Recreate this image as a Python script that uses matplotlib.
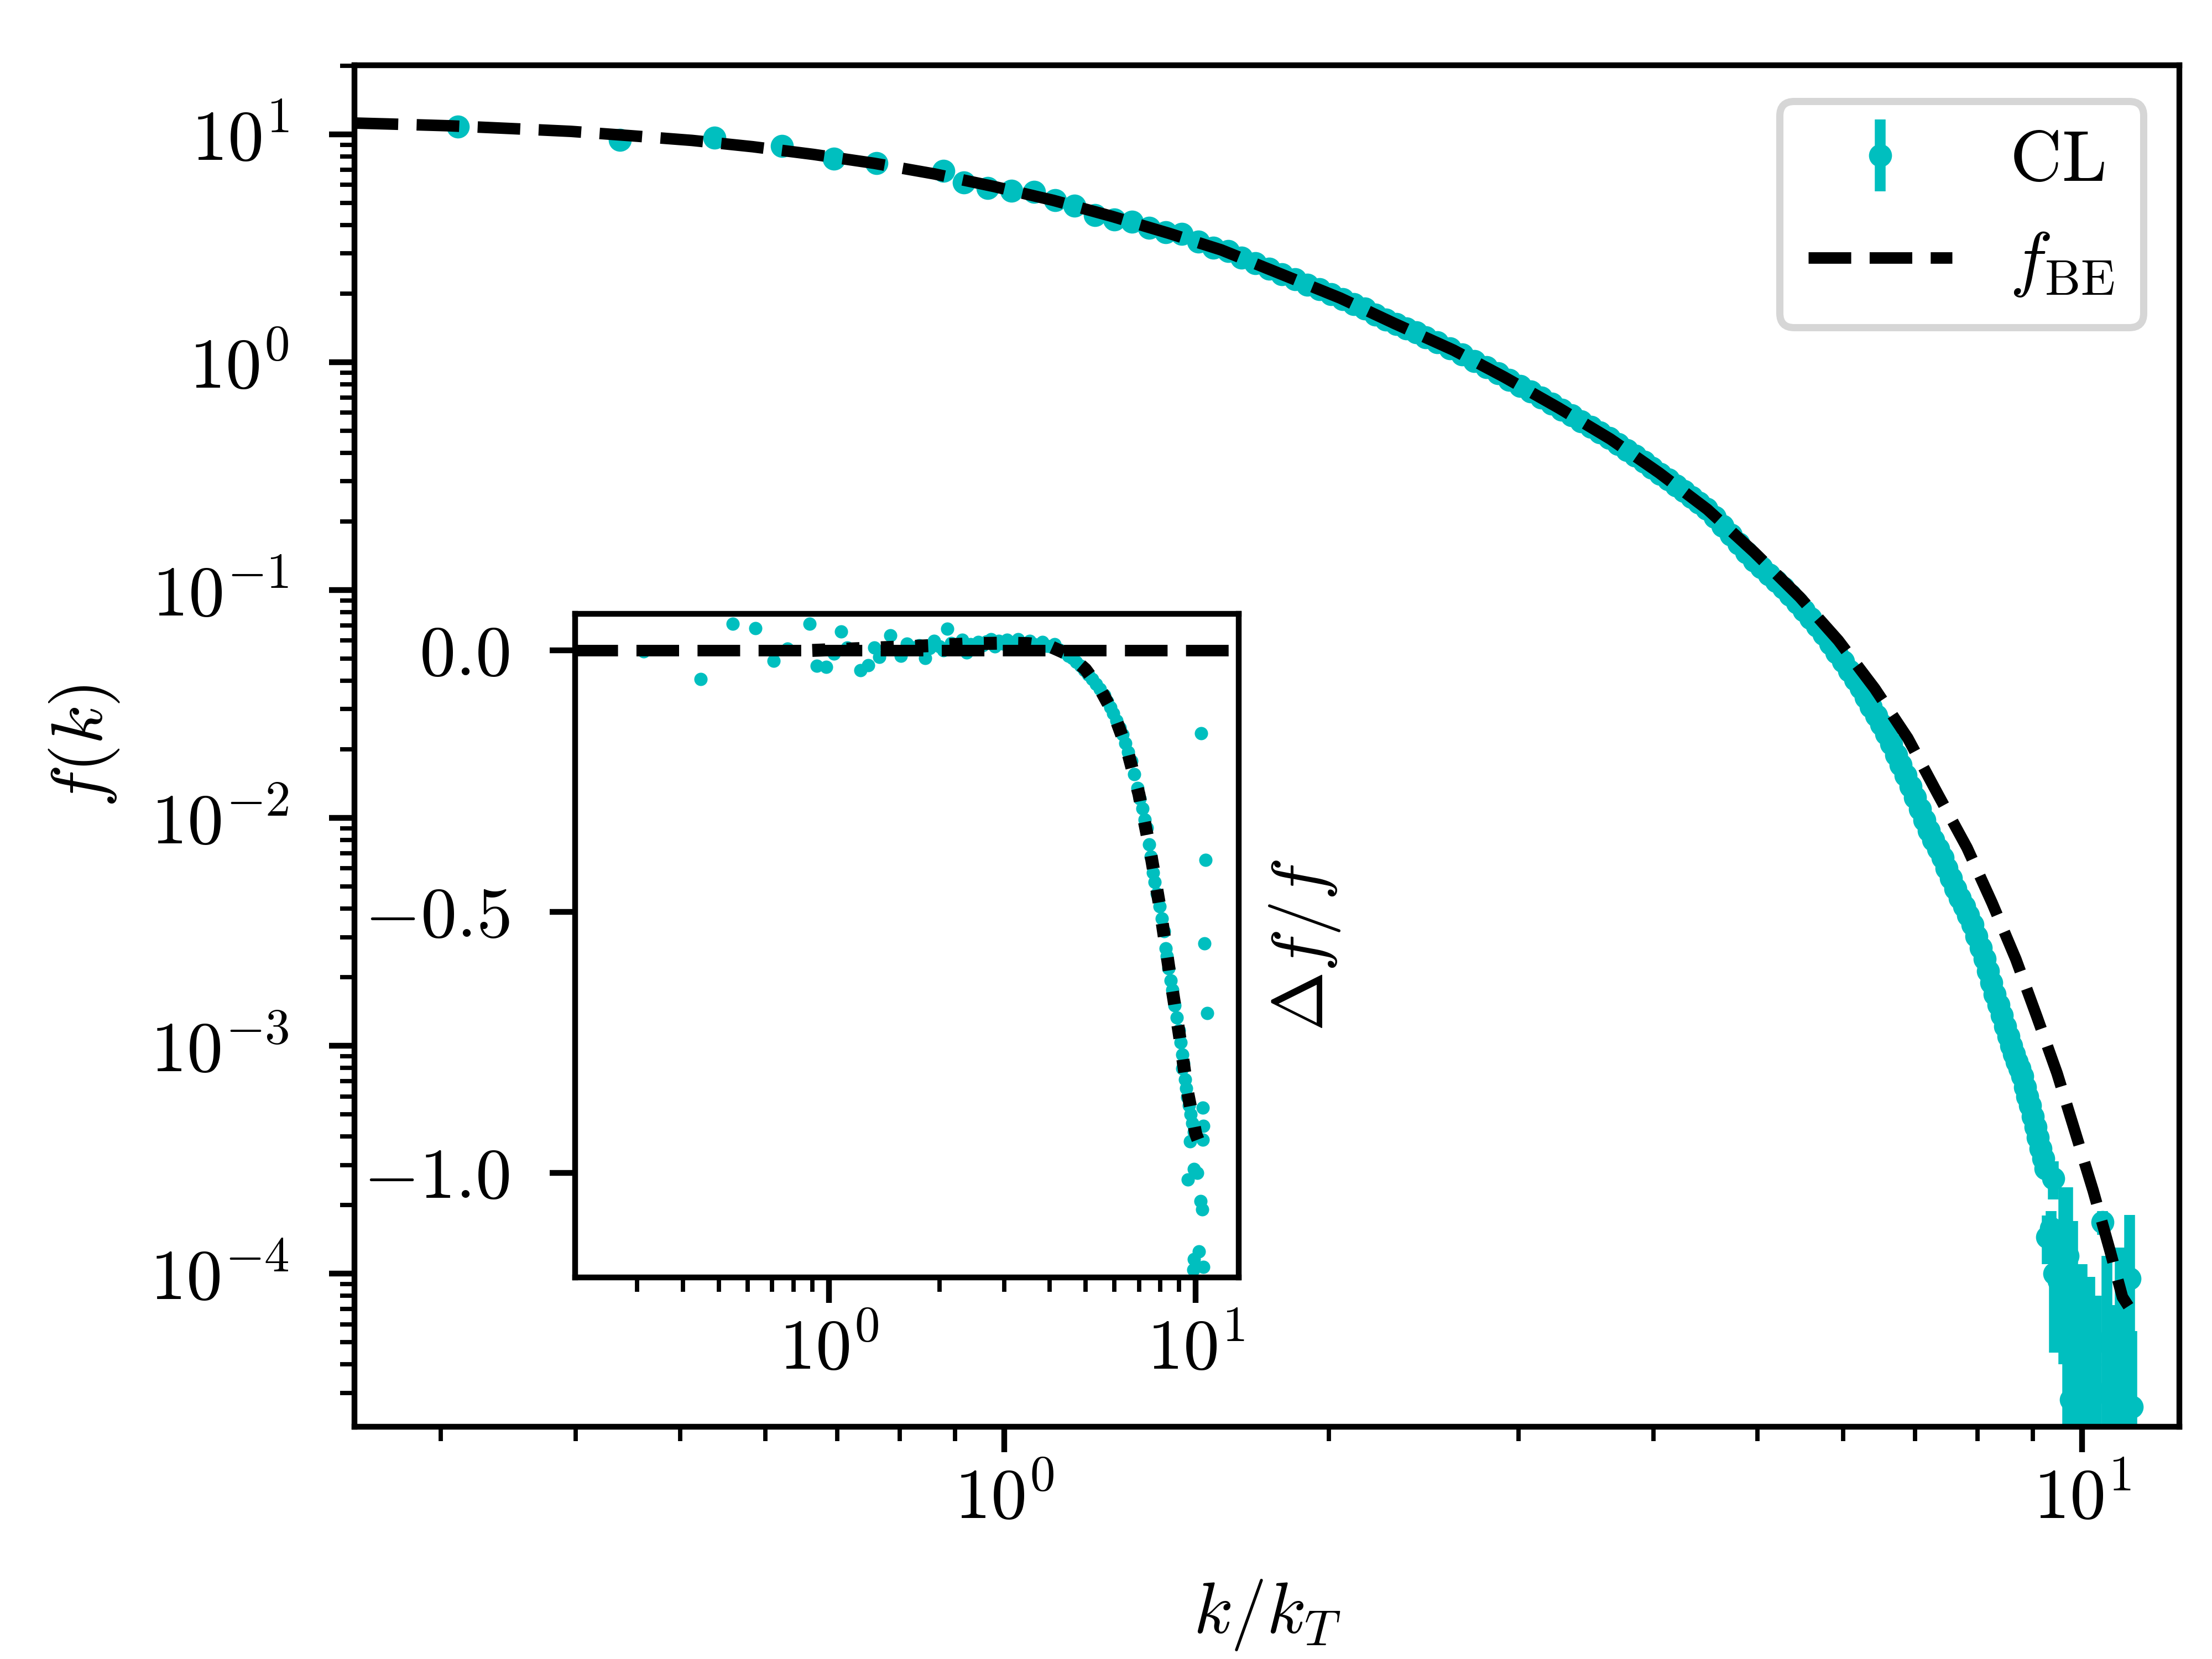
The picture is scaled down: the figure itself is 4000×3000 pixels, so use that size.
import matplotlib
matplotlib.use("Agg")
import matplotlib.pyplot as plt

plt.rcParams.update({
    "font.family": "serif",
    "font.serif": ["cmr10"],
    "mathtext.fontset": "cm",
    "axes.formatter.use_mathtext": True,
    "font.size": 10,
    "xtick.major.pad": 2.0,
    "xtick.minor.pad": 2.0,
    "ytick.major.pad": 5.6,
    "ytick.minor.pad": 5.6,
})

# ---------------- main panel data ----------------
# CL data: isolated low-k points
k_cl_low = [0.311, 0.440, 0.538, 0.622, 0.695, 0.761, 0.878, 0.917, 0.965, 1.015, 1.065,
            1.115, 1.162, 1.213, 1.264, 1.314, 1.362, 1.412, 1.461, 1.513, 1.563, 1.613]
f_cl_low = [10.8, 9.44, 9.64, 8.89, 7.82, 7.46, 6.92, 6.15, 5.81, 5.65, 5.58,
            5.13, 4.86, 4.42, 4.23, 4.14, 3.89, 3.72, 3.65, 3.38, 3.17, 3.07]

# CL data: dense band
k_cl_a = [1.66, 1.71, 1.76, 1.81, 1.86, 1.91, 1.96, 2.01, 2.06, 2.11, 2.16, 2.21, 2.26,
          2.31, 2.36, 2.41, 2.46, 2.52]
f_cl_a = [2.87, 2.72, 2.57, 2.43, 2.31, 2.19, 2.09, 1.99, 1.89, 1.80, 1.72, 1.62, 1.54,
          1.47, 1.405, 1.35, 1.288, 1.222]
k_cl_b = [2.59, 2.66, 2.73, 2.80, 2.87, 2.94, 3.01, 3.08, 3.15, 3.22, 3.29, 3.36, 3.43,
          3.50, 3.57, 3.64, 3.71, 3.78, 3.85, 3.92, 3.99, 4.06, 4.13, 4.20, 4.27, 4.34,
          4.41, 4.48]
f_cl_b = [1.150, 1.080, 1.013, 0.950, 0.892, 0.838, 0.788, 0.742, 0.698, 0.657, 0.619,
          0.584, 0.551, 0.520, 0.491, 0.464, 0.437, 0.412, 0.388, 0.365, 0.344, 0.324,
          0.306, 0.288, 0.272, 0.256, 0.242, 0.228]
k_cl_c = [4.56, 4.64, 4.72, 4.80, 4.88, 4.96, 5.04, 5.12, 5.20, 5.28, 5.36, 5.44, 5.52,
          5.60, 5.68, 5.76, 5.84, 5.92, 6.00, 6.08, 6.16]
f_cl_c = [0.2087, 0.1910, 0.1748, 0.160, 0.1464, 0.1346, 0.1256, 0.1172, 0.1094, 0.1020,
          0.0949, 0.0877, 0.0811, 0.0750, 0.0694, 0.0639, 0.0583, 0.0532, 0.0486, 0.0443,
          0.0405]
k_cl_d = [6.23, 6.30, 6.37, 6.44, 6.51, 6.58, 6.65, 6.72, 6.79, 6.86, 6.93, 7.00, 7.07,
          7.14, 7.21, 7.28, 7.35, 7.42, 7.49, 7.56, 7.63, 7.70, 7.77, 7.84, 7.91, 7.98,
          8.05, 8.12, 8.18, 8.24, 8.30, 8.36, 8.42, 8.48, 8.54, 8.60, 8.65, 8.70, 8.75,
          8.80, 8.85, 8.90, 8.95, 9.00, 9.05, 9.10, 9.15, 9.20, 9.25]
f_cl_d = [0.0371, 0.0338, 0.0308, 0.0281, 0.0257, 0.0234, 0.0211, 0.01895, 0.01706,
          0.01536, 0.01374, 0.01229, 0.01097, 0.0098, 0.00879, 0.00802, 0.00732, 0.00668,
          0.00602, 0.00543, 0.00489, 0.00446, 0.00409, 0.00375, 0.0034, 0.00303, 0.00269,
          0.0024, 0.00213, 0.00189, 0.00168, 0.00151, 0.00136, 0.00122, 0.0011, 0.0010,
          9.2e-4, 8.5e-4, 7.96e-4, 7.35e-4, 6.6e-4, 6.0e-4, 5.46e-4, 4.9e-4, 4.4e-4,
          3.95e-4, 3.55e-4, 3.2e-4, 2.9e-4]

# CL data: noisy tail with large error bars
k_cl_tail = [9.28, 9.36, 9.40, 9.42, 9.51, 9.62, 9.70, 9.76, 9.80, 10.00, 10.16, 10.31,
             10.45, 10.55, 10.73, 10.85, 11.07, 11.12]
f_cl_tail = [1.45e-4, 1.58e-4, 2.62e-4, 1.0e-4, 9.3e-5, 1.4e-4, 1.2e-4, 2.8e-5, 8.0e-5,
             5.0e-5, 4.0e-5, 3.0e-5, 1.68e-4, 5.0e-5, 2.5e-5, 6.0e-5, 9.5e-5, 2.6e-5]
err_cl_tail = [3.5e-5, 3.0e-5, 5.0e-5, 5.5e-5, 4.5e-5, 1.0e-4, 1.2e-4, 2.0e-5, 9.0e-5,
               6.0e-5, 5.7e-5, 5.0e-5, 2.0e-5, 7.0e-5, 4.8e-5, 7.0e-5, 8.6e-5, 3.0e-5]

# Bose-Einstein reference curve
k_be = [0.25, 0.268, 0.305, 0.348, 0.396, 0.451, 0.513, 0.584, 0.665, 0.757, 0.861,
        0.978, 1.11, 1.257, 1.423, 1.589, 1.82, 2.05, 2.30, 2.61, 2.91, 3.27, 3.65, 4.05,
        4.49, 4.96, 5.47, 5.94, 6.42, 6.89, 7.35, 7.82, 8.25, 8.68, 9.08, 9.48, 9.86,
        10.24, 10.61, 10.9, 11.04]
f_be = [11.2, 11.1, 10.9, 10.6, 10.3, 9.85, 9.4, 8.82, 8.16, 7.46, 6.70, 5.90, 5.13,
        4.37, 3.67, 3.11, 2.40, 1.91, 1.48, 1.13, 0.860, 0.629, 0.460, 0.327, 0.226,
        0.147, 0.0932, 0.0601, 0.0370, 0.0224, 0.01267, 0.0074, 0.00424, 0.0024, 0.00134,
        7.57e-4, 4.14e-4, 2.31e-4, 1.27e-4, 7.9e-5, 7.2e-5]

# ---------------- inset data (relative deviation) ----------------
k_res_low = [0.312, 0.446, 0.546, 0.629, 0.705, 0.769, 0.886, 0.927, 0.983, 1.03, 1.08,
             1.12, 1.22, 1.28, 1.33, 1.37, 1.47, 1.57, 1.63]
res_low = [-0.002, -0.055, 0.051, 0.043, -0.02, 0.003, 0.051, -0.03, -0.032, -0.006,
           0.036, 0.005, -0.038, -0.028, 0.005, -0.013, 0.029, -0.01, 0.013]
k_res_mid = [1.70, 1.76, 1.83, 1.88, 1.93, 2.00, 2.05, 2.10, 2.15, 2.20, 2.26, 2.31, 2.37,
             2.43, 2.49, 2.55, 2.62, 2.69, 2.76, 2.83, 2.90, 2.98, 3.06, 3.13, 3.20, 3.28,
             3.36, 3.45, 3.53, 3.62, 3.72, 3.82, 3.92, 4.02, 4.12, 4.25, 4.35, 4.49]
res_mid = [0.005, 0.010, -0.015, 0.004, 0.018, 0.008, 0.0, 0.041, 0.014, 0.011, 0.006,
           0.020, -0.004, 0.012, 0.004, 0.016, 0.010, 0.017, 0.021, 0.008, 0.018, 0.013,
           0.020, 0.009, 0.016, 0.021, 0.010, 0.013, 0.018, 0.012, 0.011, 0.016, 0.009,
           0.008, 0.012, 0.001, -0.003, -0.010]
k_res_high = [4.60, 4.72, 4.85, 4.97, 5.10, 5.22, 5.35, 5.48, 5.63, 5.74, 5.85, 5.96, 6.08,
              6.20, 6.31, 6.43, 6.55, 6.67, 6.80, 6.93, 7.04, 7.15, 7.27, 7.36, 7.46, 7.55,
              7.65, 7.74, 7.84, 7.96, 8.08, 8.20, 8.28, 8.35, 8.43, 8.54, 8.65, 8.76, 8.88,
              8.99, 9.10, 9.18, 9.27, 9.35, 9.43, 9.50, 9.58, 9.68, 9.78, 9.88]
res_high = [-0.015, -0.022, -0.030, -0.038, -0.046, -0.055, -0.064, -0.074, -0.086, -0.097,
            -0.109, -0.121, -0.134, -0.148, -0.161, -0.178, -0.195, -0.212, -0.237, -0.263,
            -0.283, -0.303, -0.324, -0.340, -0.371, -0.395, -0.425, -0.443, -0.466, -0.490,
            -0.513, -0.537, -0.570, -0.585, -0.608, -0.632, -0.650, -0.679, -0.703, -0.727,
            -0.750, -0.774, -0.790, -0.821, -0.838, -0.855, -0.871, -0.888, -0.905, -0.922]
k_res_out = [9.53, 9.88, 10.30, 10.40, 9.88, 10.20, 9.84, 10.50, 10.45, 10.50, 10.45, 10.35,
             10.63, 10.57, 10.76, 9.20, 9.65, 10.1]
res_out = [-1.013, -0.993, -1.054, -1.07, -1.165, -1.15, -1.185, -1.18, -0.937, -0.91,
           -0.875, -0.159, -0.401, -0.561, -0.694, -0.80, -0.94, -1.0]

k_fit = [0.9, 1.5, 2.0, 2.5, 3.0, 3.5, 4.0, 4.5, 5.0, 5.5, 6.0, 6.5, 7.0, 7.5, 8.0, 8.5,
         9.0, 9.5, 10.0, 10.45]
res_fit = [0.0, 0.006, 0.010, 0.013, 0.014, 0.013, 0.008, -0.008, -0.036, -0.075, -0.124,
           -0.190, -0.275, -0.380, -0.495, -0.620, -0.730, -0.845, -0.925, -0.960]

# ---------------- assemble ----------------
k_cl = k_cl_low + k_cl_a + k_cl_b + k_cl_c + k_cl_d + k_cl_tail
f_cl = f_cl_low + f_cl_a + f_cl_b + f_cl_c + f_cl_d + f_cl_tail
n_bulk = len(k_cl) - len(k_cl_tail)
err_cl = [0.0] * n_bulk + err_cl_tail
assert len(k_cl) == len(f_cl) == len(err_cl)

k_res = k_res_low + k_res_mid + k_res_high + k_res_out
res = res_low + res_mid + res_high + res_out
assert len(k_res) == len(res)

cyan = "#00bfbf"

fig = plt.figure(figsize=(4000 / 937.5, 3000 / 937.5), dpi=937.5)
ax = fig.add_axes([0.16025, 0.14, 0.825, 0.8207])
ax.set_xscale("log")
ax.set_yscale("log")

h_cl = ax.errorbar(k_cl, f_cl, yerr=err_cl, fmt="o", color=cyan, ms=3.2, mew=0,
                   elinewidth=1.5, capsize=0, label=r"$\mathrm{CL}$", zorder=2)
h_be, = ax.plot(k_be, f_be, ls="--", color="k", lw=1.6, label=r"$f_{\rm BE}$", zorder=3)

ax.set_xlim(0.2494, 12.31)
ax.set_ylim(2.13e-5, 20.1)
ax.set_xlabel(r"$k/k_T$", labelpad=6.3)
ax.set_ylabel(r"$f(k)$")
ax.legend(handles=[h_cl, h_be], loc="upper right")

# ---------------- inset ----------------
axin = fig.add_axes([0.26, 0.23, 0.30, 0.40])
axin.set_xscale("log")
axin.plot(k_res, res, "o", color=cyan, ms=1.85, mew=0, ls="none", zorder=2)
axin.axhline(0.0, ls="--", color="k", lw=1.6, zorder=3)
axin.plot(k_fit, res_fit, ls=":", color="k", lw=1.8, zorder=3)
axin.set_xlim(0.203, 13.1)
axin.set_ylim(-1.2, 0.07)
axin.set_yticks([0.0, -0.5, -1.0])
axin.set_ylabel(r"$\Delta f/f$")
axin.yaxis.set_label_position("right")

fig.savefig("out.png", dpi=937.5)
